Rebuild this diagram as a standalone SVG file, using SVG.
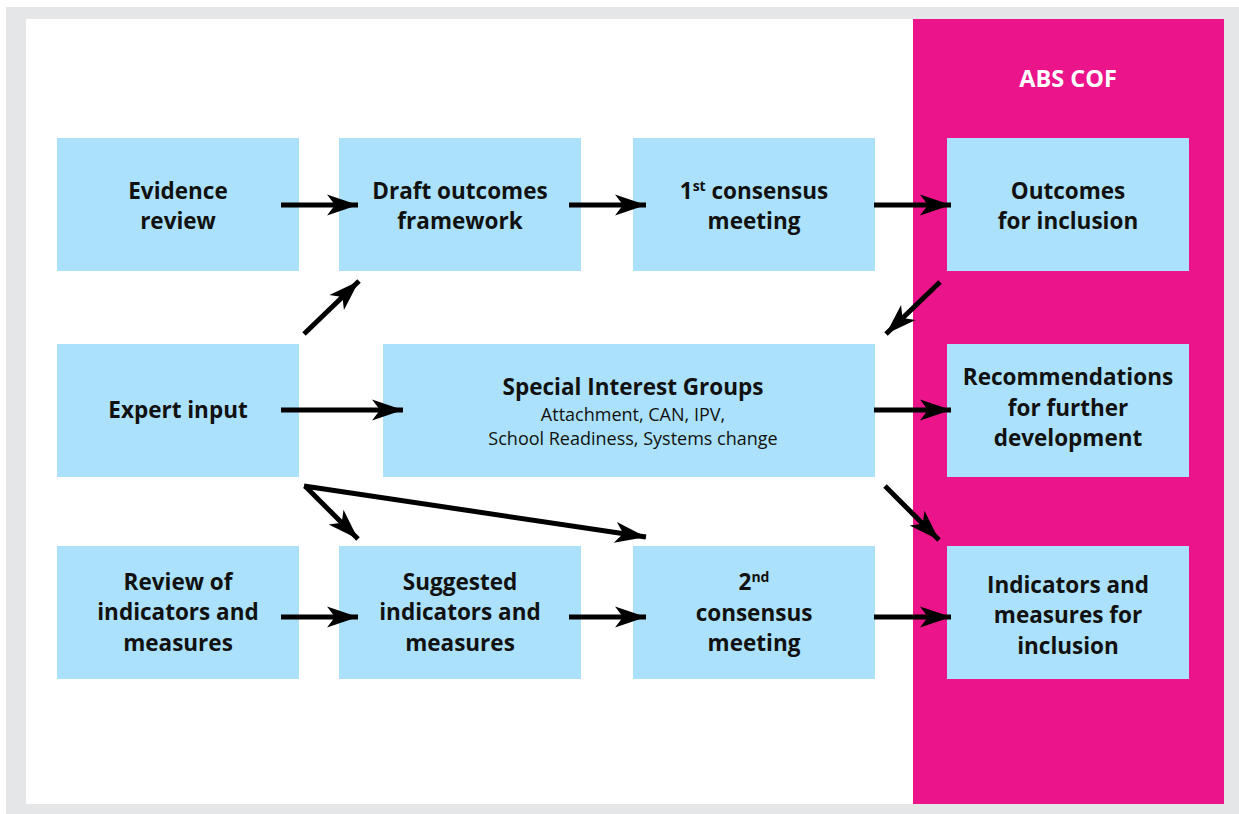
<svg xmlns="http://www.w3.org/2000/svg" width="1239" height="814" viewBox="0 0 1239 814">
  <style>
    .box { fill: #abe1fa; }
    .t { font-family: "Open Sans", "Noto Sans", "Liberation Sans", sans-serif; font-weight: 700; font-size: 22.5px; fill: #111; text-anchor: middle; }
    .s { font-family: "Open Sans", "Noto Sans", "Liberation Sans", sans-serif; font-weight: 400; font-size: 18px; fill: #111; text-anchor: middle; }
    .sup { font-size: 14px; }
    .hdr { font-family: "Open Sans", "Noto Sans", "Liberation Sans", sans-serif; font-weight: 700; font-size: 23.5px; fill: #fff; text-anchor: middle; }
    .arr { stroke: #000; stroke-width: 5; fill: none; marker-end: url(#head); }
  </style>
  <defs>
    <marker id="head" markerUnits="userSpaceOnUse" markerWidth="34" markerHeight="24" viewBox="-32 -12 34 24" refX="0" refY="0" orient="auto" overflow="visible">
      <path d="M0,0 L-31,-10.5 L-23,0 L-31,10.5 Z" fill="#000"/>
    </marker>
  </defs>

  <!-- frame -->
  <rect x="6" y="7" width="1233" height="807" fill="#e5e6e8"/>
  <rect x="26" y="19" width="887" height="785" fill="#fff"/>
  <rect x="913" y="19" width="311" height="785" fill="#ec148b"/>
  <text class="hdr" x="1068" y="87">ABS COF</text>

  <!-- row 1 -->
  <g id="evidence-review">
    <rect class="box" x="57" y="138" width="242" height="133"/>
    <text class="t" x="178" y="199">Evidence</text>
    <text class="t" x="178" y="229">review</text>
  </g>
  <g id="draft-framework">
    <rect class="box" x="339" y="138" width="242" height="133"/>
    <text class="t" x="460" y="199">Draft outcomes</text>
    <text class="t" x="460" y="229">framework</text>
  </g>
  <g id="consensus-1">
    <rect class="box" x="633" y="138" width="242" height="133"/>
    <text class="t" x="754" y="199">1<tspan class="sup" dy="-8">st</tspan><tspan dy="8"> consensus</tspan></text>
    <text class="t" x="754" y="229">meeting</text>
  </g>
  <g id="outcomes-inclusion">
    <rect class="box" x="947" y="138" width="242" height="133"/>
    <text class="t" x="1068" y="199">Outcomes</text>
    <text class="t" x="1068" y="229">for inclusion</text>
  </g>

  <!-- row 2 -->
  <g id="expert-input">
    <rect class="box" x="57" y="344" width="242" height="133"/>
    <text class="t" x="178" y="418">Expert input</text>
  </g>
  <g id="special-interest-groups">
    <rect class="box" x="383" y="344" width="492" height="133"/>
    <text class="t" x="633" y="395">Special Interest Groups</text>
    <text class="s" x="633" y="421">Attachment, CAN, IPV,</text>
    <text class="s" x="633" y="445">School Readiness, Systems change</text>
  </g>
  <g id="recommendations">
    <rect class="box" x="947" y="344" width="242" height="133"/>
    <text class="t" x="1068" y="385">Recommendations</text>
    <text class="t" x="1068" y="416">for further</text>
    <text class="t" x="1068" y="446">development</text>
  </g>

  <!-- row 3 -->
  <g id="review-indicators">
    <rect class="box" x="57" y="546" width="242" height="133"/>
    <text class="t" x="178" y="590">Review of</text>
    <text class="t" x="178" y="620">indicators and</text>
    <text class="t" x="178" y="651">measures</text>
  </g>
  <g id="suggested-indicators">
    <rect class="box" x="339" y="546" width="242" height="133"/>
    <text class="t" x="460" y="590">Suggested</text>
    <text class="t" x="460" y="620">indicators and</text>
    <text class="t" x="460" y="651">measures</text>
  </g>
  <g id="consensus-2">
    <rect class="box" x="633" y="546" width="242" height="133"/>
    <text class="t" x="754" y="590">2<tspan class="sup" dy="-8">nd</tspan></text>
    <text class="t" x="754" y="621">consensus</text>
    <text class="t" x="754" y="651">meeting</text>
  </g>
  <g id="indicators-inclusion">
    <rect class="box" x="947" y="546" width="242" height="133"/>
    <text class="t" x="1068" y="593">Indicators and</text>
    <text class="t" x="1068" y="623">measures for</text>
    <text class="t" x="1068" y="654">inclusion</text>
  </g>

  <!-- connectors -->
  <g id="connectors">
    <line class="arr" x1="281" y1="205" x2="358" y2="205"/>
    <line class="arr" x1="569" y1="205" x2="646" y2="205"/>
    <line class="arr" x1="874" y1="205" x2="951" y2="205"/>
    <line class="arr" x1="304" y1="334" x2="359" y2="281"/>
    <line class="arr" x1="940" y1="282" x2="886" y2="334"/>
    <line class="arr" x1="281" y1="410" x2="403" y2="410"/>
    <line class="arr" x1="874" y1="410" x2="951" y2="410"/>
    <line class="arr" x1="305" y1="486" x2="358" y2="539"/>
    <line class="arr" x1="304" y1="486" x2="646" y2="537"/>
    <line class="arr" x1="885" y1="486" x2="939" y2="540"/>
    <line class="arr" x1="281" y1="617" x2="358" y2="617"/>
    <line class="arr" x1="569" y1="617" x2="646" y2="617"/>
    <line class="arr" x1="874" y1="617" x2="951" y2="617"/>
  </g>
</svg>
